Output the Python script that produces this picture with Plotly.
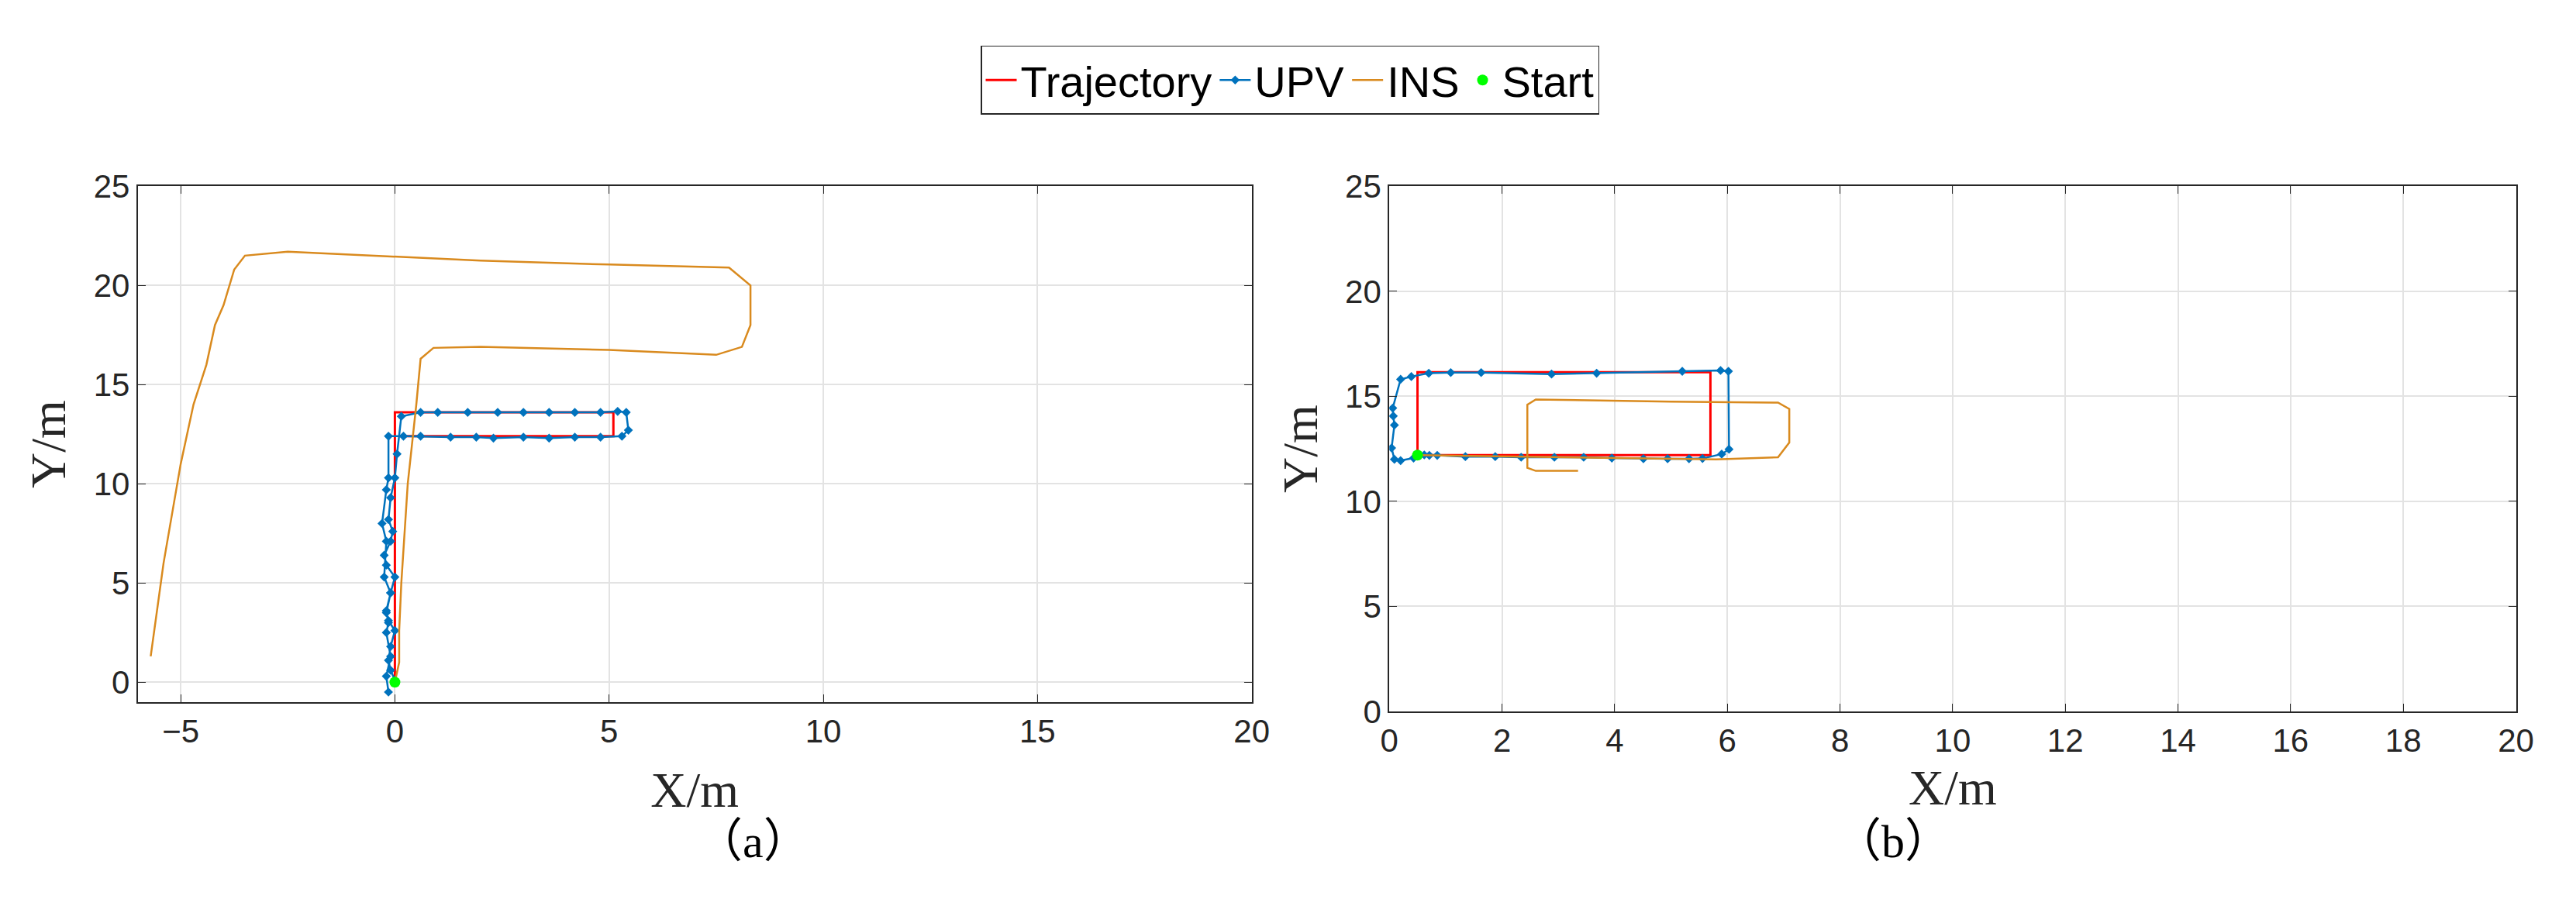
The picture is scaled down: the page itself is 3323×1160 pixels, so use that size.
import plotly.graph_objects as go

# ---- Panel (a) data ----
traj_a_x = [0, 0, 5.1, 5.1, 0.1]
traj_a_y = [0, 13.6, 13.6, 12.4, 12.4]
upv_a_x = [0, -0.1, -0.15, -0.1, 0.0, -0.15, -0.2, -0.1, 0.0, -0.2, -0.25, -0.1, -0.05, -0.15, -0.1, 0.0, 0.05, 0.15,
           0.6, 1.0, 1.7, 2.4, 3.0, 3.6, 4.2, 4.8, 5.2, 5.4, 5.45, 5.3,
           4.8, 4.2, 3.6, 3.0, 2.3, 1.9, 1.3, 0.6, 0.2, -0.15, -0.15, -0.2, -0.3, -0.2, -0.25, -0.1, -0.2, -0.15, -0.2, -0.1, -0.2, -0.15]
upv_a_y = [0.1, 0.6, 1.1, 1.8, 2.6, 3.1, 3.5, 4.5, 5.3, 5.9, 6.4, 7.1, 7.6, 8.2, 9.3, 10.3, 11.5, 13.4,
           13.6, 13.6, 13.6, 13.6, 13.6, 13.6, 13.6, 13.6, 13.65, 13.6, 12.7, 12.4,
           12.35, 12.35, 12.3, 12.35, 12.3, 12.35, 12.35, 12.4, 12.4, 12.4, 10.3, 9.7, 8.0, 7.1, 5.3, 4.5, 3.6, 3.0, 2.5, 1.3, 0.3, -0.5]
ins_a_x = [0, 0.1, 0.1, 0.15, 0.3, 0.5, 0.6, 0.9, 2.0, 5.0, 7.5, 8.1, 8.3, 8.3, 7.8, 5.0, 2.0, 0.0, -2.5, -3.5, -3.75, -4.0,
           -4.2, -4.4, -4.7, -5.0, -5.4, -5.7]
ins_a_y = [0, 1.0, 2.6, 5.0, 10.0, 14.0, 16.3, 16.85, 16.9, 16.75, 16.5, 16.9, 18.0, 20.0, 20.9, 21.05, 21.25, 21.45, 21.7, 21.5,
           20.8, 19.0, 18.0, 16.0, 14.0, 11.0, 6.0, 1.3]
start_a = ([0], [0])

# ---- Panel (b) data ----
traj_b_x = [0.5, 5.7, 5.7, 0.5, 0.5]
traj_b_y = [12.2, 12.2, 16.15, 16.15, 12.2]
upv_b_x = [0.5, 0.62, 0.71, 0.85, 1.35, 1.88, 2.34, 2.93, 3.45, 3.95, 4.51, 4.94, 5.32, 5.56, 5.9, 6.03, 6.02, 5.88,
           5.2, 3.68, 2.88, 1.63, 1.09, 0.7, 0.39, 0.2, 0.06, 0.07, 0.09, 0.04, 0.09, 0.2, 0.43, 0.5]
upv_b_y = [12.19, 12.21, 12.19, 12.19, 12.13, 12.13, 12.1, 12.1, 12.1, 12.06, 12.03, 12.03, 12.03, 12.04, 12.25, 12.48,
           16.19, 16.23, 16.19, 16.1, 16.06, 16.13, 16.13, 16.1, 15.94, 15.81, 14.44, 14.06, 13.63, 12.54, 12.0, 11.94, 12.06, 12.19]
ins_b_x = [0.5, 3.0, 5.8, 6.9, 7.1, 7.1, 6.9, 5.0, 2.6, 2.45, 2.45, 2.6, 3.35]
ins_b_y = [12.2, 12.1, 12.0, 12.1, 12.8, 14.4, 14.7, 14.75, 14.85, 14.6, 11.6, 11.45, 11.45]
start_b = ([0.5], [12.2])

RED, BLUE, ORANGE, GREEN = "#FF0000", "#0072BD", "#D98A1E", "#00FF00"

fig = go.Figure()

def add_panel(tx, ty, ux, uy, ix, iy, s, xa, ya, legend):
    fig.add_trace(go.Scatter(x=tx, y=ty, mode="lines", name="Trajectory", line=dict(color=RED, width=3),
                             xaxis=xa, yaxis=ya, showlegend=legend))
    fig.add_trace(go.Scatter(x=ux, y=uy, mode="lines+markers", name="UPV", line=dict(color=BLUE, width=2.5),
                             marker=dict(symbol="diamond", size=9, color=BLUE), xaxis=xa, yaxis=ya, showlegend=legend))
    fig.add_trace(go.Scatter(x=ix, y=iy, mode="lines", name="INS", line=dict(color=ORANGE, width=2.5),
                             xaxis=xa, yaxis=ya, showlegend=legend))
    fig.add_trace(go.Scatter(x=s[0], y=s[1], mode="markers", name="Start", marker=dict(color=GREEN, size=14),
                             xaxis=xa, yaxis=ya, showlegend=legend))

add_panel(traj_a_x, traj_a_y, upv_a_x, upv_a_y, ins_a_x, ins_a_y, start_a, "x", "y", True)
add_panel(traj_b_x, traj_b_y, upv_b_x, upv_b_y, ins_b_x, ins_b_y, start_b, "x2", "y2", False)

tickfont = dict(family="Liberation Sans Narrow, Liberation Sans, Arial", size=42, color="#262626")
titlefont = dict(family="Liberation Serif, Times New Roman", size=64, color="#262626")
ax_common = dict(showline=True, linecolor="#262626", linewidth=2, mirror="ticks", ticks="inside", ticklen=10,
                 tickcolor="#262626", showgrid=True, gridcolor="#E3E3E3", gridwidth=1.5, zeroline=False,
                 tickfont=tickfont)

fig.update_layout(
    width=3323, height=1160, margin=dict(l=0, r=0, t=0, b=0),
    paper_bgcolor="white", plot_bgcolor="white",
    xaxis=dict(domain=[0.048, 0.485], range=[-6, 20], tickvals=[-5, 0, 5, 10, 15, 20], anchor="y",
               title=dict(text="X/m", font=titlefont, standoff=30), **ax_common),
    yaxis=dict(domain=[0.214, 0.812], range=[-1, 25], tickvals=[0, 5, 10, 15, 20, 25], anchor="x",
               title=dict(text="Y/m", font=titlefont, standoff=15), **ax_common),
    xaxis2=dict(domain=[0.539, 0.981], range=[0, 20], dtick=2, anchor="y2",
                title=dict(text="X/m", font=titlefont, standoff=15), **ax_common),
    yaxis2=dict(domain=[0.203, 0.812], range=[0, 25], dtick=5, anchor="x2",
                title=dict(text="Y/m", font=titlefont, standoff=15), **ax_common),
    legend=dict(orientation="h", x=0.5, xanchor="center", y=0.975, yanchor="top",
                bordercolor="#262626", borderwidth=1.5, bgcolor="white",
                font=dict(family="Liberation Sans, Arial", size=56, color="black"), itemwidth=40),
    annotations=[
        dict(text="（a）", x=0.2665, y=0.052, xref="paper", yref="paper", yanchor="middle", showarrow=False,
             font=dict(family="Liberation Serif, Noto Sans CJK SC", size=60, color="black")),
        dict(text="（b）", x=0.76, y=0.052, xref="paper", yref="paper", yanchor="middle", showarrow=False,
             font=dict(family="Liberation Serif, Noto Sans CJK SC", size=60, color="black")),
    ],
)

fig.write_html("out.html")
